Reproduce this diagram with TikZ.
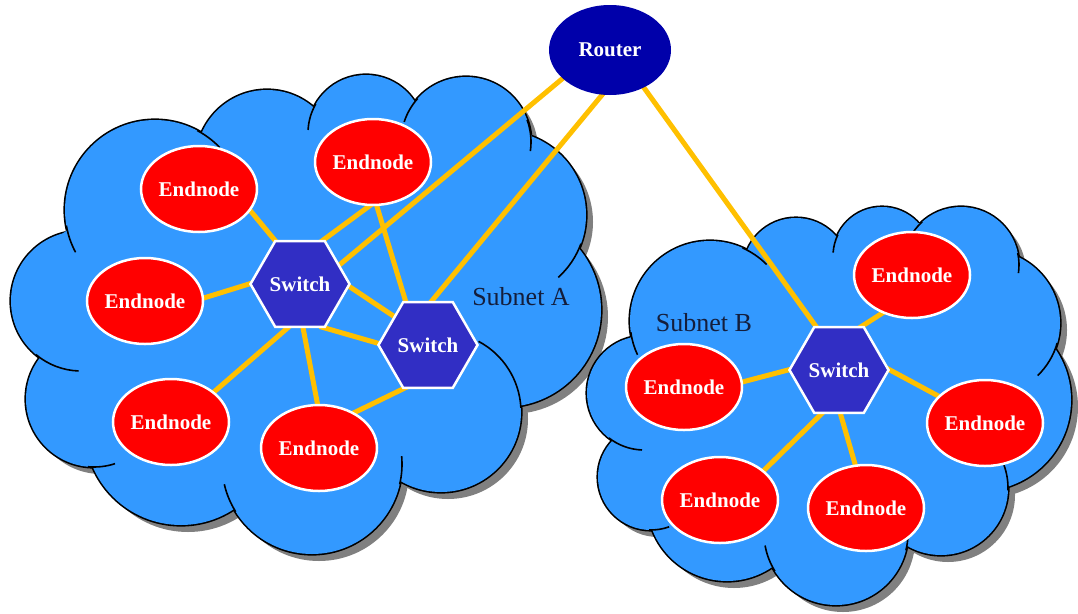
\documentclass[tikz,border=0pt]{standalone}
\usepackage{fontspec}
\setmainfont{Liberation Serif}
\usetikzlibrary{shapes.geometric}

\definecolor{cloudblue}{RGB}{51,153,255}
\definecolor{shadowgray}{RGB}{128,128,128}
\definecolor{endred}{RGB}{255,0,0}
\definecolor{switchblue}{RGB}{49,46,196}
\definecolor{routerblue}{RGB}{0,0,170}
\definecolor{linkgold}{RGB}{255,192,0}
\definecolor{labelnavy}{RGB}{20,30,60}

\pgfdeclarelayer{clouds}
\pgfdeclarelayer{links}
\pgfsetlayers{clouds,links,main}

\begin{document}
\begin{tikzpicture}[x=1pt,y=-1pt,
  nodefont/.style={font=\fontsize{21}{21}\selectfont\bfseries, text=white},
  endnode/.style={ellipse, nodefont, fill=endred, draw=white, line width=2.5pt,
    minimum width=116pt, minimum height=86pt, inner sep=0pt},
  switchnode/.style={regular polygon, regular polygon sides=6, nodefont,
    fill=switchblue, draw=white, line width=2.5pt, minimum size=99pt, inner sep=0pt},
  routernode/.style={ellipse, nodefont, fill=routerblue,
    minimum width=122pt, minimum height=90pt, inner sep=0pt},
  link/.style={draw=linkgold, line width=5pt, shorten <=-6pt, shorten >=-6pt},
  subnetlabel/.style={text=labelnavy, font=\fontsize{26}{26}\selectfont, inner sep=0pt},
  cloudedge/.style={draw=black, line width=3.2pt},
  cusp/.style={draw=black, line width=1.6pt},
]
\useasboundingbox (0,0) rectangle (1078,613);

\begin{pgfonlayer}{clouds}
% ---------- cloud of subnet A ----------
\def\bumpsA{155/210/90, 267/161/71, 366/133/58, 466/142/65, 502/215/84,
  504/310/97, 441/412/80, 312/464/90, 181/429/96, 94/399/68, 81/301/70}
\def\coreA{(62,234) -- (202,132) -- (313,107) -- (415,102) -- (530,132) -- (577,248)
  -- (520,405) -- (400,480) -- (233,508) -- (93,467) -- (40,357) -- cycle}

\begin{scope}[shift={(7,7)}]
  \foreach \cx/\cy/\rr in \bumpsA { \fill[shadowgray] (\cx,\cy) circle[radius=\rr pt]; }
  \fill[shadowgray] \coreA;
\end{scope}
\foreach \cx/\cy/\rr in \bumpsA { \draw[cloudedge] (\cx,\cy) circle[radius=\rr pt]; }
\foreach \cx/\cy/\rr in \bumpsA { \fill[cloudblue] (\cx,\cy) circle[radius=\rr pt]; }
\fill[cloudblue] \coreA;
\foreach \cx/\cy/\rr/\a/\b in {155/210/90/-170/-152, 155/210/90/62/44,
    366/133/58/-210/-183, 466/142/65/-222/-198, 466/142/65/20/-8,
    502/215/84/-20/-48, 441/412/80/3/62, 312/464/90/-13/5,
    312/464/90/-148/-167, 94/399/68/-95/-72, 81/301/70/-130/-92}
  { \draw[cusp] (\cx,\cy) ++(\a:\rr pt) arc[start angle=\a, end angle=\b, radius=\rr pt]; }

% ---------- cloud of subnet B ----------
\def\bumpsB{710/321/80, 796/271/53, 882/256/49, 961/265/58, 987/323/73,
  980/400/91, 941/488/67, 836/533/72, 727/501/80, 651/477/53, 644/393/57}
\def\coreB{(630,338) -- (747,250) -- (835,237) -- (920,223) -- (1016,257) -- (1055,348)
  -- (1008,482) -- (906,547) -- (772,567) -- (653,530) -- (612,440) -- cycle}

\begin{scope}[shift={(7,7)}]
  \foreach \cx/\cy/\rr in \bumpsB { \fill[shadowgray] (\cx,\cy) circle[radius=\rr pt]; }
  \fill[shadowgray] \coreB;
\end{scope}
\foreach \cx/\cy/\rr in \bumpsB { \draw[cloudedge] (\cx,\cy) circle[radius=\rr pt]; }
\foreach \cx/\cy/\rr in \bumpsB { \fill[cloudblue] (\cx,\cy) circle[radius=\rr pt]; }
\fill[cloudblue] \coreB;
\foreach \cx/\cy/\rr/\a/\b in {710/321/80/-172/-155, 710/321/80/66/45,
    882/256/49/-206/-184, 961/265/58/-228/-215, 961/265/58/12/-8,
    987/323/73/-16/-46, 941/488/67/-2/20, 836/533/72/-14/-2,
    836/533/72/-148/-170, 651/477/53/-92/-70, 644/393/57/-128/-92}
  { \draw[cusp] (\cx,\cy) ++(\a:\rr pt) arc[start angle=\a, end angle=\b, radius=\rr pt]; }
\end{pgfonlayer}

% ---------- labels ----------
\node[subnetlabel] (labA) at (521,297) {Subnet A};
\node[subnetlabel] (labB) at (704,323) {Subnet B};

% ---------- devices ----------
\node[routernode] (R) at (610,50) {Router};

\node[switchnode] (S1) at (300,284) {Switch};
\node[switchnode] (S2) at (428,345) {Switch};
\node[switchnode] (S3) at (839,370) {Switch};

\node[endnode] (A1) at (199,189) {Endnode};
\node[endnode] (A2) at (373,162) {Endnode};
\node[endnode] (A3) at (145,301) {Endnode};
\node[endnode] (A4) at (171,422) {Endnode};
\node[endnode] (A5) at (319,448) {Endnode};

\node[endnode] (B1) at (912,275) {Endnode};
\node[endnode] (B2) at (684,387) {Endnode};
\node[endnode] (B3) at (985,423) {Endnode};
\node[endnode] (B4) at (720,500) {Endnode};
\node[endnode] (B5) at (866,508) {Endnode};

% ---------- links, beneath the devices ----------
\begin{pgfonlayer}{links}
\draw[link] (A1.-23) -- (S1.120);
\draw[link] (A3.3) -- (S1.180);
\draw[link] (A4.35) -- (S1.-106);
\draw[link] (S1.-86) -- (A5.92);
\draw[link] (A2.-95) -- (S1.62);
\draw[link] (A2.-85) -- (S2.117);
\draw[link] (S1.-3) -- (S2.140);
\draw[link] (S1.-60) -- (S2.178);
\draw[link] (S2.240) -- (A5.45);
\draw[link] (R.211) -- (S1.26);
\draw[link] (R.-100) -- (S2.85);
\draw[link] (R.-48) -- (S3.118);
\draw[link] (S3.62) -- (B1.232);
\draw[link] (S3.180) -- (B2.5);
\draw[link] (S3.0) -- (B3.150);
\draw[link] (S3.-112) -- (B4.34);
\draw[link] (S3.-88) -- (B5.104);
\end{pgfonlayer}
\end{tikzpicture}
\end{document}
